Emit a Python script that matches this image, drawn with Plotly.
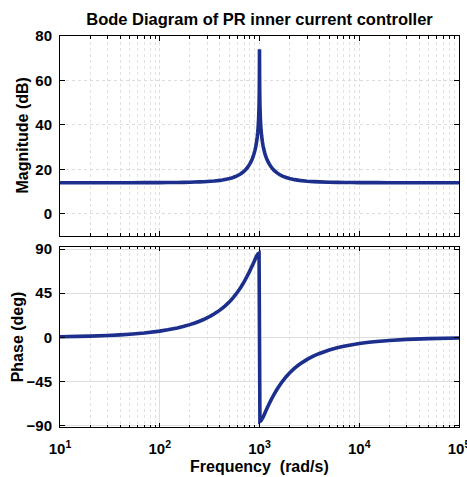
import plotly.graph_objects as go

# ---- data ----
freq_mag = [10, 15, 20, 30, 40, 50, 70, 100, 120, 150, 175, 200, 225, 250, 275, 300, 325, 350,
            375, 400, 425, 450, 475, 500, 525, 550, 575, 600, 625, 650, 675, 700, 725, 750, 775,
            800, 825, 850, 875, 900, 915, 930, 950, 960, 970, 980, 990, 995, 998, 1000,
            1002, 1005, 1010, 1020, 1030, 1040, 1050, 1070, 1085, 1100, 1125, 1150, 1175, 1200,
            1250, 1300, 1350, 1400, 1500, 1600, 1700, 1850, 2000, 2250, 2500, 3000, 3500, 4000,
            5000, 6000, 7000, 8500, 10000, 12500, 15000, 20000, 30000, 50000, 100000]
mag_db = [13.98, 13.98, 13.98, 13.99, 13.99, 13.99, 14.01, 14.03, 14.06, 14.10, 14.15, 14.20,
          14.27, 14.34, 14.43, 14.52, 14.63, 14.75, 14.89, 15.04, 15.21, 15.41, 15.62, 15.86,
          16.13, 16.43, 16.77, 17.15, 17.57, 18.04, 18.57, 19.17, 19.84, 20.60, 21.46, 22.45,
          23.59, 24.93, 26.54, 28.51, 29.96, 31.68, 34.66, 36.63, 39.16, 42.72, 48.78, 54.83,
          62.80, 74.0,
          62.80, 54.87, 48.87, 42.90, 39.42, 36.98, 35.09, 32.28, 30.68, 29.36, 27.58, 26.16,
          25.00, 24.02, 22.45, 21.25, 20.30, 19.54, 18.39, 17.57, 16.96, 16.32, 15.86, 15.36,
          15.04, 14.67, 14.47, 14.34, 14.20, 14.13, 14.09, 14.06, 14.03, 14.01, 14.00, 13.99,
          13.98, 13.98, 13.98]

freq_phase = [10, 15, 20, 30, 40, 50, 70, 100, 120, 150, 175, 200, 225, 250, 275, 300, 325, 350,
              375, 400, 425, 450, 475, 500, 525, 550, 575, 600, 625, 650, 675, 700, 725, 750,
              775, 800, 825, 850, 875, 900, 915, 930, 950, 960, 970, 990, 1000,
              1010, 1030, 1040, 1050, 1070, 1085, 1100, 1125, 1150, 1175, 1200, 1250, 1300, 1350,
              1400, 1500, 1600, 1700, 1850, 2000, 2250, 2500, 3000, 3500, 4000, 5000, 6000, 7000,
              8500, 10000, 12500, 15000, 20000, 30000, 50000, 100000]
phase_deg = [0.63, 0.95, 1.27, 1.90, 2.53, 3.17, 4.44, 6.37, 7.66, 9.62, 11.28, 12.96, 14.68,
             16.42, 18.20, 20.02, 21.88, 23.78, 25.74, 27.76, 29.82, 31.94, 34.13, 36.38, 38.69,
             41.06, 43.51, 46.01, 48.58, 51.20, 53.88, 56.60, 59.37, 62.17, 65.00, 67.84, 70.69,
             73.54, 76.37, 79.18, 80.85, 82.3, 84.0, 84.7, 85.3, 85.8, 0.0,
             -85.8, -85.3, -84.7, -84.0, -82.4, -81.59, -80.2, -77.94, -75.76, -73.66, -71.64,
             -67.84, -64.34, -61.13, -58.18, -52.98, -48.58, -44.83, -40.16, -36.38, -31.47,
             -27.76, -22.51, -18.97, -16.42, -12.96, -10.73, -9.15, -7.51, -6.37, -5.08, -4.23,
             -3.17, -2.11, -1.27, -0.63]

x_tickvals = [10, 100, 1000, 10000, 100000]
x_ticktext = ["10<sup>1</sup>", "10<sup>2</sup>", "10<sup>3</sup>", "10<sup>4</sup>", "10<sup>5</sup>"]
mag_ticks = [0, 20, 40, 60, 80]
phase_ticks = [-90, -45, 0, 45, 90]

title_text = "Bode Diagram of PR inner current controller"
mag_label = "Magnitude (dB)"
phase_label = "Phase (deg)"
freq_label = "Frequency\u00a0\u00a0(rad/s)"

minor_vals = [m * 10 ** e for e in range(1, 5) for m in range(2, 10)]

LINE = "#1c2f8c"
FONT = "Liberation Sans"
tickfont = dict(family=FONT, size=15, color="black", weight="bold")
titlefont = dict(family=FONT, size=16, color="black", weight="bold")

# plot area in pixels (for placing the axis-title annotations)
L, R, T, B = 60, 8, 36, 50
W, H = 467, 477
PW, PH = W - L - R, H - T - B
TOP_DOM = [0.4885, 1]
BOT_DOM = [0, 0.4611]


def px_to_xpaper(px):
    return (px - L) / PW


def px_to_ypaper(py):
    return (H - B - py) / PH


fig = go.Figure()
fig.add_trace(go.Scatter(x=freq_mag, y=mag_db, mode="lines", xaxis="x2", yaxis="y2",
                         line=dict(color=LINE, width=3.6, simplify=False), showlegend=False,
                         hoverinfo="skip"))
fig.add_trace(go.Scatter(x=freq_phase, y=phase_deg, mode="lines", xaxis="x", yaxis="y",
                         line=dict(color=LINE, width=3.6, simplify=False), showlegend=False,
                         hoverinfo="skip"))

XRANGE = [0.9998, 5.0002]


def xaxis_common(major_dash):
    return dict(type="log", range=XRANGE, tickvals=x_tickvals, ticktext=x_ticktext,
                ticks="inside", ticklen=4.5, tickwidth=1, tickcolor="black",
                showline=True, linecolor="black", linewidth=1, mirror="allticks",
                showgrid=True, gridcolor="#dedede", gridwidth=1, griddash=major_dash,
                zeroline=False, tickfont=tickfont, automargin=False,
                ticklabeloverflow="allow", ticklabelstandoff=8,
                minor=dict(tickvals=minor_vals, ticks="inside", ticklen=2.5,
                           tickcolor="black", showgrid=True, gridcolor="#e2e2e2",
                           griddash="dot", gridwidth=1))


xa = xaxis_common("solid")
xa.update(domain=[0, 1], anchor="y")
xa2 = xaxis_common("dot")
xa2.update(domain=[0, 1], anchor="y2", matches="x", showticklabels=False)

annotations = [
    dict(text=mag_label, textangle=-90, font=titlefont, showarrow=False,
         xref="paper", yref="paper", x=px_to_xpaper(22.5), y=(TOP_DOM[0] + TOP_DOM[1]) / 2,
         xanchor="center", yanchor="middle"),
    dict(text=phase_label, textangle=-90, font=titlefont, showarrow=False,
         xref="paper", yref="paper", x=px_to_xpaper(17.5), y=(BOT_DOM[0] + BOT_DOM[1]) / 2,
         xanchor="center", yanchor="middle"),
    dict(text=freq_label, font=titlefont, showarrow=False,
         xref="paper", yref="paper", x=px_to_xpaper(259.5), y=px_to_ypaper(466),
         xanchor="center", yanchor="middle"),
]

fig.update_layout(
    width=W, height=H,
    paper_bgcolor="white", plot_bgcolor="white",
    margin=dict(l=L, r=R, t=T, b=B),
    hovermode=False,
    title=dict(text=title_text, font=dict(family=FONT, size=16.5, color="black", weight="bold"),
               x=0.5, xref="paper", xanchor="center", y=1 - 19 / 477, yref="container",
               yanchor="middle"),
    xaxis=xa,
    xaxis2=xa2,
    yaxis=dict(domain=BOT_DOM, anchor="x", range=[-91.5, 92.5], tickvals=phase_ticks,
               ticks="inside", ticklen=5, tickcolor="black", showline=True, linecolor="black",
               linewidth=1, mirror="allticks", showgrid=True, gridcolor="#dedede",
               zeroline=False, tickfont=tickfont, automargin=False, ticklabelstandoff=4),
    yaxis2=dict(domain=TOP_DOM, anchor="x2", range=[-10, 80], tickvals=mag_ticks,
                ticks="inside", ticklen=5, tickcolor="black", showline=True, linecolor="black",
                linewidth=1, mirror="allticks", showgrid=True, gridcolor="#dcdcdc",
                griddash="dot", zeroline=False, tickfont=tickfont, automargin=False,
                ticklabelstandoff=4),
    annotations=annotations,
)

fig.write_html("out.html", config={"displayModeBar": False},
               post_script="document.body.style.margin='0';document.body.style.overflow='hidden';")
